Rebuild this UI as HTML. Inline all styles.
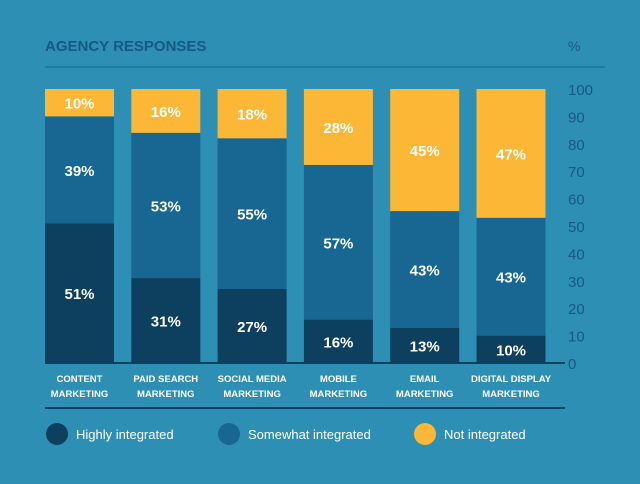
<!DOCTYPE html>
<html><head><meta charset="utf-8"><style>
body{margin:0;background:#2e8fb5;}
svg{display:block;font-family:"Liberation Sans",sans-serif;}
</style></head><body>
<svg id="c" width="640" height="484">
<rect width="640" height="484" fill="#2e8fb5"/>
<text x="45" y="51" font-size="15" font-weight="bold" fill="#165983">AGENCY RESPONSES</text>
<text x="568" y="51" font-size="14" fill="#165983">%</text>
<line x1="45" y1="67" x2="605" y2="67" stroke="#237aa3" stroke-width="2"/>
<line x1="45" y1="408" x2="565" y2="408" stroke="#0d3f5e" stroke-width="2"/>
<g id="bars"></g>
<g id="axis"></g>
<g id="legend"></g>
</svg>
<script>
const categories=[["CONTENT","MARKETING"],["PAID SEARCH","MARKETING"],["SOCIAL MEDIA","MARKETING"],["MOBILE","MARKETING"],["EMAIL","MARKETING"],["DIGITAL DISPLAY","MARKETING"]];
const highly=[51,31,27,16,13,10];
const somewhat=[39,53,55,57,43,43];
const notInt=[10,16,18,28,45,47];
const ticks=[0,10,20,30,40,50,60,70,80,90,100];
const seriesNames=["Highly integrated","Somewhat integrated","Not integrated"];
const colors=["#0d3f5e","#186793","#fbb735"];
const NS="http://www.w3.org/2000/svg";
const y0=363,y100=89;
function y(v){return y0-(y0-y100)*v/100;}
function x(i){return 45+i*86.3;}
const bw=69;
function el(t,a,p){const e=document.createElementNS(NS,t);for(const k in a)e.setAttribute(k,a[k]);p.appendChild(e);return e;}
const bars=document.getElementById('bars');
const series=[highly,somewhat,notInt];
categories.forEach((c,i)=>{
  let acc=0;
  const total=series.reduce((s,a)=>s+a[i],0);
  const k=100/total;
  series.forEach((s,si)=>{
    const v=s[i]*k;
    const r=el('rect',{x:x(i),y:y(acc+v),width:bw,height:y(acc)-y(acc+v),fill:colors[si]},bars);
    
    
    const t=el('text',{x:x(i)+bw/2,y:(y(acc)+y(acc+v))/2+6,'text-anchor':'middle','font-size':15,'font-weight':'bold',fill:'#fff'},bars);
    t.textContent=s[i]+'%';
    
    
    acc+=v;
  });
  c.forEach((ln,li)=>{
    const t=el('text',{x:x(i)+bw/2,y:382+li*15,'text-anchor':'middle','font-size':9.5,'font-weight':'bold',fill:'#fff'},bars);
    t.textContent=ln;
    
    
  });
});
const axis=document.getElementById('axis');
const al=el('line',{x1:45,y1:y0,x2:565,y2:y0,stroke:'#0d3f5e','stroke-width':2},axis);


ticks.forEach(v=>{
  const t=el('text',{x:568,y:y(v)+6,'font-size':15,fill:'#165983'},axis);
  t.textContent=v;
  
  
});
const lg=document.getElementById('legend');
const lx=[57,229,425];
seriesNames.forEach((n,i)=>{
  const c=el('circle',{cx:lx[i],cy:434,r:11,fill:colors[i]},lg);
  
  
  const t=el('text',{x:lx[i]+19,y:439,'font-size':13,fill:'#fff'},lg);
  t.textContent=n;
  
  
});
</script>
</body></html>
